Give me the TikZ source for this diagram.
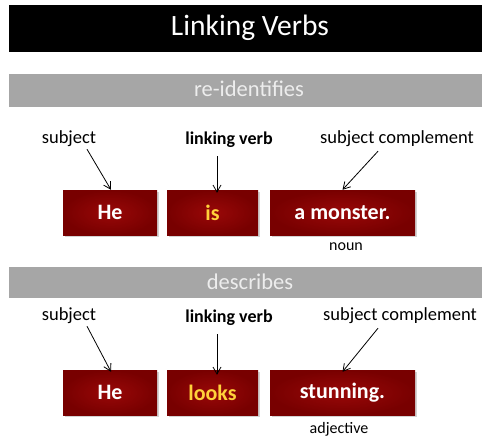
\documentclass[tikz,border=0pt]{standalone}
\usepackage{fontspec}
\setmainfont{Carlito}
\usetikzlibrary{arrows.meta,shadows}
\definecolor{barblack}{HTML}{000000}
\definecolor{bargray}{HTML}{A6A6A6}
\definecolor{bartext}{HTML}{EDEDED}
\definecolor{wordred}{HTML}{990808}
\definecolor{wordreddark}{HTML}{780000}
\definecolor{verbyellow}{HTML}{FFD23A}
\tikzset{
  titletext/.style={text=white,font=\fontsize{29.5}{32}\selectfont},
  bandbar/.style={fill=bargray,draw=none,minimum width=473pt,minimum height=33pt,inner sep=0pt},
  bandtext/.style={text=bartext,font=\fontsize{22.5}{25}\selectfont},
  wordbox/.style={shading=radial,inner color=wordred,outer color=wordreddark,
    draw=none,minimum height=45pt,inner sep=0pt,text=white,
    font=\bfseries\fontsize{22}{24}\selectfont,
    drop shadow={opacity=0.35,shadow xshift=2pt,shadow yshift=-2pt}},
  lbl/.style={font=\fontsize{18.5}{20}\selectfont,inner sep=0pt},
  boldlbl/.style={font=\bfseries\fontsize{18}{20}\selectfont,inner sep=0pt},
  wordclass/.style={font=\fontsize{16}{18}\selectfont,inner sep=0pt},
  pointer/.style={-{Straight Barb[length=7pt,width=8pt]},line width=0.8pt}
}
\begin{document}
\begin{tikzpicture}[x=1pt,y=-1pt]
\useasboundingbox (0,0) rectangle (482,437);

% title bar
\fill[barblack] (9,5) rectangle (482,52);
\node[titletext] (title) at (250,28) {Linking Verbs};

% first band: re-identifies
\node[bandbar] (band1) at (245.5,90) {};
\node[bandtext] (band1text) at (249,89) {re-identifies};

\node[lbl] (subj1) at (69,139) {subject};
\node[boldlbl] (verb1) at (229,140) {linking verb};
\node[lbl] (comp1) at (397,139) {subject complement};

\node[wordbox,minimum width=94pt] (he1) at (110,212.5) {He};
\node[wordbox,minimum width=91pt] (is1) at (212.5,212.5) {\textcolor{verbyellow}{is}};
\node[wordbox,minimum width=145pt] (mon1) at (342.5,212.5) {a monster.};
\node[wordclass] (noun1) at (346,247) {noun};

\draw[pointer] ([xshift=18pt,yshift=-2pt]subj1.south) -- ([xshift=1pt]he1.north);
\draw[pointer] ([xshift=-12pt,yshift=-8pt]verb1.south) -- ([xshift=4.5pt,yshift=-3pt]is1.north);
\draw[pointer] ([xshift=-19pt,yshift=-4pt]comp1.south) -- (mon1.north);

% second band: describes
\node[bandbar,minimum height=31pt] (band2) at (245.5,282.5) {};
\node[bandtext] (band2text) at (250,282) {describes};

\node[lbl] (subj2) at (69,316) {subject};
\node[boldlbl] (verb2) at (229,318) {linking verb};
\node[lbl] (comp2) at (400,316) {subject complement};

\node[wordbox,minimum width=94pt] (he2) at (110,392.5) {He};
\node[wordbox,minimum width=91pt] (looks2) at (212.5,392.5) {\textcolor{verbyellow}{looks}};
\node[wordbox,minimum width=145pt] (stun2) at (342.5,392.5) {stunning.};
\node[wordclass] (adj2) at (339,429) {adjective};

\draw[pointer] ([xshift=18pt,yshift=-2pt]subj2.south) -- ([xshift=1pt,yshift=-2pt]he2.north);
\draw[pointer] ([xshift=-12pt,yshift=-8pt]verb2.south) -- ([xshift=4.5pt,yshift=-5pt]looks2.north);
\draw[pointer] ([xshift=-22pt,yshift=-4pt]comp2.south) -- ([yshift=-2pt]stun2.north);
\end{tikzpicture}
\end{document}
